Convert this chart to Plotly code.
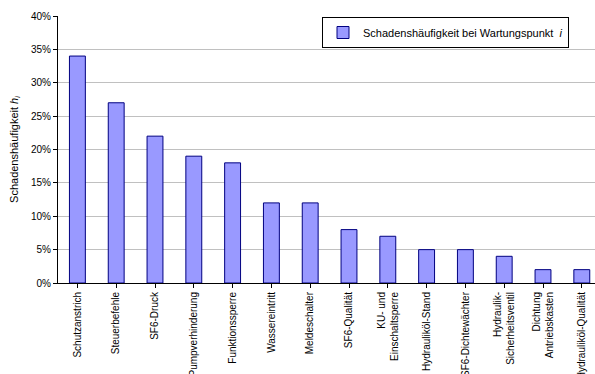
import plotly.graph_objects as go

# Maintenance points and their damage frequency (share of cases)
categories = [
    "Schutzanstrich",
    "Steuerbefehle",
    "SF6-Druck",
    "Pumpverhinderung",
    "Funktionssperre",
    "Wassereintritt",
    "Meldeschalter",
    "SF6-Qualität",
    "KU- und<br>Einschaltsperre",
    "Hydrauliköl-Stand",
    "SF6-Dichtewächter",
    "Hydraulik-<br>Sicherheitsventil",
    "Dichtung<br>Antriebskasten",
    "Hydrauliköl-Qualität",
]
frequency = [0.34, 0.27, 0.22, 0.19, 0.18, 0.12, 0.12, 0.08, 0.07, 0.05, 0.05, 0.04, 0.02, 0.02]
y_ticks = [0, 0.05, 0.10, 0.15, 0.20, 0.25, 0.30, 0.35, 0.40]
y_tick_labels = ["0%", "5%", "10%", "15%", "20%", "25%", "30%", "35%", "40%"]

FONT = "Liberation Sans, Arial, sans-serif"

fig = go.Figure(
    go.Bar(
        x=list(range(len(categories))),
        y=frequency,
        name="Schadenshäufigkeit bei Wartungspunkt  <i>i</i>",
        marker=dict(color="#9999FF", line=dict(color="#000080", width=1)),
        width=0.41,
        showlegend=True,
    )
)

W, H = 595, 374
left, top, bottom = 58, 16, 91
cat_px = 38.8
x_end = -0.5 + (W - left) / cat_px

fig.update_layout(
    width=W,
    height=H,
    margin=dict(l=left, r=0, t=top, b=bottom, autoexpand=False),
    paper_bgcolor="white",
    plot_bgcolor="white",
    font=dict(family=FONT, size=10, color="black"),
    showlegend=True,
    legend=dict(
        x=(322 - left) / (W - left),
        y=1 - (17 - top) / (H - top - bottom),
        xanchor="left",
        yanchor="top",
        bordercolor="black",
        borderwidth=1,
        bgcolor="white",
        font=dict(size=11),
        itemwidth=30,
        tracegroupgap=0,
    ),
)

fig.update_xaxes(
    range=[-0.5, x_end],
    tickmode="array",
    tickvals=list(range(len(categories))),
    ticktext=categories,
    tickangle=-90,
    ticks="outside",
    ticklen=4,
    tickcolor="black",
    tickson="boundaries",
    showline=True,
    linecolor="black",
    linewidth=1,
    showgrid=False,
    automargin=False,
    tickfont=dict(size=10),
)

fig.update_yaxes(
    range=[0, 0.40],
    tickmode="array",
    tickvals=y_ticks,
    ticktext=y_tick_labels,
    ticks="outside",
    ticklen=4,
    tickcolor="black",
    showline=True,
    linecolor="black",
    linewidth=1,
    showgrid=True,
    gridcolor="#c0c0c0",
    gridwidth=1,
    zeroline=False,
    automargin=False,
    tickfont=dict(size=10),
    title=dict(
        text="Schadenshäufigkeit <i>h<sub>i</sub></i>",
        font=dict(size=11),
        standoff=10,
    ),
)

fig.write_html("out.html")
